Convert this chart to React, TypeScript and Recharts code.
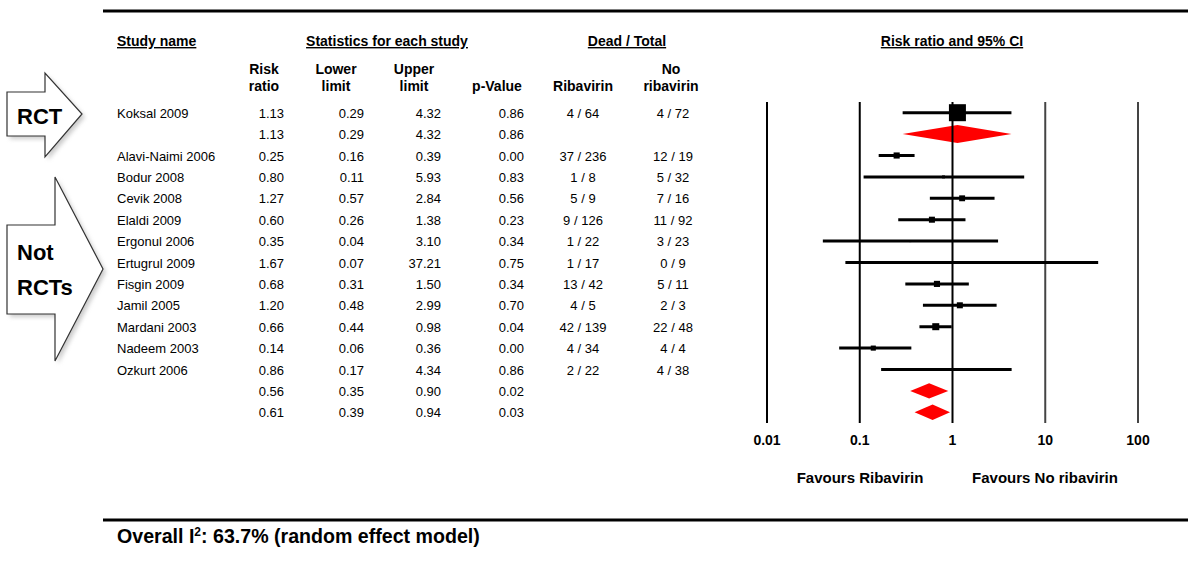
import React from "react";
import { ComposedChart, XAxis, YAxis, Scatter, Area, ReferenceLine } from "recharts";

const FONT = "Arial, 'Liberation Sans', Helvetica, sans-serif";

// individual studies (top to bottom)
const studyNames = [
  "Koksal 2009",
  "Alavi-Naimi 2006",
  "Bodur 2008",
  "Cevik 2008",
  "Elaldi 2009",
  "Ergonul 2006",
  "Ertugrul 2009",
  "Fisgin 2009",
  "Jamil 2005",
  "Mardani 2003",
  "Nadeem 2003",
  "Ozkurt 2006",
];
const riskRatio = [1.13, 0.25, 0.8, 1.27, 0.6, 0.35, 1.67, 0.68, 1.2, 0.66, 0.14, 0.86];
const lowerLimit = [0.29, 0.16, 0.11, 0.57, 0.26, 0.04, 0.07, 0.31, 0.48, 0.44, 0.06, 0.17];
const upperLimit = [4.32, 0.39, 5.93, 2.84, 1.38, 3.1, 37.21, 1.5, 2.99, 0.98, 0.36, 4.34];
const pValue = [0.86, 0.0, 0.83, 0.56, 0.23, 0.34, 0.75, 0.34, 0.7, 0.04, 0.0, 0.86];
const deadRibavirin = ["4 / 64", "37 / 236", "1 / 8", "5 / 9", "9 / 126", "1 / 22", "1 / 17", "13 / 42", "4 / 5", "42 / 139", "4 / 34", "2 / 22"];
const deadNoRibavirin = ["4 / 72", "12 / 19", "5 / 32", "7 / 16", "11 / 92", "3 / 23", "0 / 9", "5 / 11", "2 / 3", "22 / 48", "4 / 4", "4 / 38"];
// relative weight (%) -> box size
const studyWeight = [100, 13, 3, 12, 12.5, 1.4, 0.8, 13, 12.5, 17, 9, 2.2];

// pooled results: RCT, non-RCT (fixed), non-RCT (random)
const pooledRatio = [1.13, 0.56, 0.61];
const pooledLower = [0.29, 0.35, 0.39];
const pooledUpper = [4.32, 0.9, 0.94];
const pooledP = [0.86, 0.02, 0.03];
const pooledRows = [1, 13, 14];

const xTicks = [0.01, 0.1, 1, 10, 100];
const xTickLabels = ["0.01", "0.1", "1", "10", "100"];

const studyRow = (i: number) => (i === 0 ? 0 : i + 1);
const rowTicks = Array.from({ length: 15 }, (_, i) => i);

type TableRow = { name: string; rr: number; lo: number; hi: number; p: number; rib: string; noRib: string };
const tableRows: TableRow[] = [];
studyNames.forEach((name, i) => {
  tableRows[studyRow(i)] = {
    name,
    rr: riskRatio[i],
    lo: lowerLimit[i],
    hi: upperLimit[i],
    p: pValue[i],
    rib: deadRibavirin[i],
    noRib: deadNoRibavirin[i],
  };
});
pooledRatio.forEach((rr, j) => {
  tableRows[pooledRows[j]] = { name: "", rr, lo: pooledLower[j], hi: pooledUpper[j], p: pooledP[j], rib: "", noRib: "" };
});

const boxes = studyNames.map((_, i) => ({ x: riskRatio[i], y: studyRow(i), w: studyWeight[i] }));

const diamonds = pooledRatio.map((rr, j) => {
  const r = pooledRows[j];
  const h = j === 0 ? 0.42 : 0.36;
  return [
    { x: pooledLower[j], range: [r, r] },
    { x: rr, range: [r - h, r + h] },
    { x: pooledUpper[j], range: [r, r] },
  ];
});

const Box = (props: any) => {
  const { cx, cy, payload } = props;
  const s = 17 * Math.sqrt(payload.w / 100);
  return <rect x={cx - s / 2} y={cy - s / 2} width={s} height={s} fill="#000" />;
};

const RowTick = (props: any) => {
  const { y, payload } = props;
  const r = tableRows[payload.value];
  if (!r) return null;
  const by = y + 5;
  return (
    <g fontFamily={FONT} fontSize={13} fill="#000">
      <text x={117} y={by}>{r.name}</text>
      <text x={284} y={by} textAnchor="end">{r.rr.toFixed(2)}</text>
      <text x={364} y={by} textAnchor="end">{r.lo.toFixed(2)}</text>
      <text x={441} y={by} textAnchor="end">{r.hi.toFixed(2)}</text>
      <text x={524} y={by} textAnchor="end">{r.p.toFixed(2)}</text>
      <text x={583} y={by} textAnchor="middle">{r.rib}</text>
      <text x={673} y={by} textAnchor="middle">{r.noRib}</text>
    </g>
  );
};

const Arrow = ({ pts }: { pts: string }) => (
  <g>
    <polygon points={pts} fill="#999" opacity={0.5} transform="translate(3,3)" filter="url(#blur)" />
    <polygon points={pts} fill="#fff" stroke="#333" strokeWidth={1.2} />
  </g>
);

export default function App() {
  return (
    <div style={{ position: "absolute", left: 0, top: 0, width: 1200, height: 561, background: "#fff" }}>
      <ComposedChart
        width={1200}
        height={561}
        margin={{ top: 102, right: 62, bottom: 108, left: 707 }}
        style={{ position: "absolute", left: 0, top: 0 }}
      >
        <XAxis
          type="number"
          dataKey="x"
          scale="log"
          domain={[0.01, 100]}
          allowDataOverflow
          ticks={xTicks}
          interval={0}
          tickFormatter={(v: number) => xTickLabels[xTicks.indexOf(v)] ?? String(v)}
          axisLine={false}
          tickLine={false}
          tickMargin={6}
          tick={{ fill: "#000", fontSize: 14, fontWeight: "bold", fontFamily: FONT }}
        />
        <YAxis
          type="number"
          domain={[-0.5, 14.5]}
          allowDataOverflow
          reversed
          ticks={rowTicks}
          interval={0}
          width={60}
          axisLine={false}
          tickLine={false}
          tick={<RowTick />}
        />
        {xTicks.map((t) => (
          <ReferenceLine key={t} x={t} stroke={t > 1 ? "#444" : "#000"} strokeWidth={2} />
        ))}
        {studyNames.map((name, i) => (
          <ReferenceLine
            key={name}
            segment={[
              { x: lowerLimit[i], y: studyRow(i) },
              { x: upperLimit[i], y: studyRow(i) },
            ]}
            stroke="#000"
            strokeWidth={3}
          />
        ))}
        <Scatter data={boxes} dataKey="y" shape={<Box />} isAnimationActive={false} />
        {diamonds.map((d, j) => (
          <Area
            key={j}
            data={d}
            dataKey="range"
            type="linear"
            stroke="none"
            fill="#ff0000"
            fillOpacity={1}
            dot={false}
            activeDot={false}
            isAnimationActive={false}
          />
        ))}
      </ComposedChart>
      <svg
        width={1200}
        height={561}
        style={{ position: "absolute", left: 0, top: 0, pointerEvents: "none" }}
        fontFamily={FONT}
      >
        <defs>
          <filter id="blur" x="-20%" y="-20%" width="140%" height="140%">
            <feGaussianBlur stdDeviation="2" />
          </filter>
        </defs>
        <line x1={103} x2={1188} y1={11} y2={11} stroke="#000" strokeWidth={3} />
        <line x1={103} x2={1188} y1={520} y2={520} stroke="#000" strokeWidth={3} />

        <g fontSize={14} fontWeight="bold" fill="#000">
          <text x={117} y={46} textDecoration="underline">Study name</text>
          <text x={387} y={46} textAnchor="middle" textDecoration="underline">Statistics for each study</text>
          <text x={627} y={46} textAnchor="middle" textDecoration="underline">Dead / Total</text>
          <text x={952} y={46} textAnchor="middle" textDecoration="underline">Risk ratio and 95% CI</text>

          <text x={264} y={74} textAnchor="middle">Risk</text>
          <text x={264} y={91} textAnchor="middle">ratio</text>
          <text x={336} y={74} textAnchor="middle">Lower</text>
          <text x={336} y={91} textAnchor="middle">limit</text>
          <text x={414} y={74} textAnchor="middle">Upper</text>
          <text x={414} y={91} textAnchor="middle">limit</text>
          <text x={497} y={91} textAnchor="middle">p-Value</text>
          <text x={583} y={91} textAnchor="middle">Ribavirin</text>
          <text x={671} y={74} textAnchor="middle">No</text>
          <text x={671} y={91} textAnchor="middle">ribavirin</text>
        </g>

        <g fontSize={15} fontWeight="bold" fill="#000">
          <text x={860} y={483} textAnchor="middle">Favours Ribavirin</text>
          <text x={1045} y={483} textAnchor="middle">Favours No ribavirin</text>
        </g>

        <text x={117} y={543} fontSize={19.6} fontWeight="bold" fill="#000">
          Overall I<tspan dy={-7} fontSize={12}>2</tspan>
          <tspan dy={7}>: 63.7% (random effect model)</tspan>
        </text>

        <Arrow pts="7,92 45,92 45,73 82,114 45,157 45,136 7,136" />
        <Arrow pts="7,225 55,225 55,177 103,269 55,361 55,314 7,314" />
        <g fontSize={22} fontWeight="bold" fill="#000">
          <text x={17} y={124}>RCT</text>
          <text x={17} y={260}>Not</text>
          <text x={17} y={295}>RCTs</text>
        </g>
      </svg>
    </div>
  );
}
